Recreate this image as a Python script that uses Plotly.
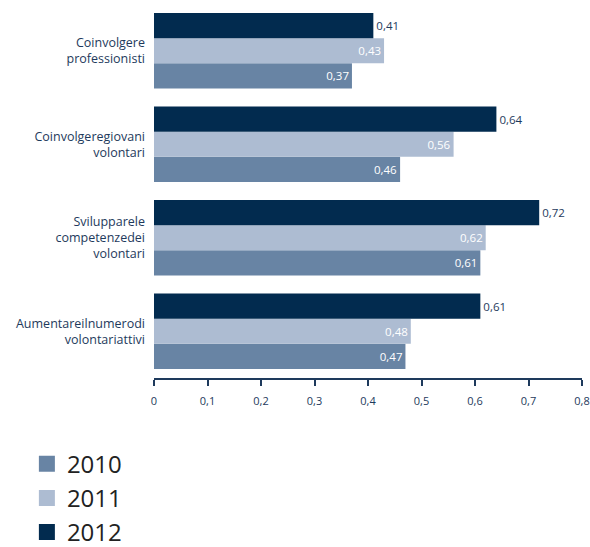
import plotly.graph_objects as go

categories = [
    "Coinvolgere<br>professionisti",
    "Coinvolgeregiovani<br>volontari",
    "Svilupparele<br>competenzedei<br>volontari",
    "Aumentareilnumerodi<br>volontariattivi",
]
years = ["2010", "2011", "2012"]
v2010 = [0.37, 0.46, 0.61, 0.47]
v2011 = [0.43, 0.56, 0.62, 0.48]
v2012 = [0.41, 0.64, 0.72, 0.61]
tick_vals = [0, 0.1, 0.2, 0.3, 0.4, 0.5, 0.6, 0.7, 0.8]

colors = {"2010": "#6884a4", "2011": "#adbcd2", "2012": "#022b4f"}
series = {"2010": v2010, "2011": v2011, "2012": v2012}
label_color = "#1e3a5c"
font_family = "Open Sans, Noto Sans, sans-serif"

fig = go.Figure()
for y in years:
    inside = y != "2012"
    fig.add_trace(go.Bar(
        y=categories, x=series[y], orientation="h", name=y,
        marker=dict(color=colors[y], line=dict(width=0)),
        texttemplate="%{x:.2f}",
        textposition="inside" if inside else "outside",
        insidetextanchor="end",
        textfont=dict(size=11.5, color="white" if inside else label_color, family=font_family),
        cliponaxis=False, showlegend=False,
    ))
    fig.add_trace(go.Scatter(
        x=[None], y=[None], mode="markers", name=y,
        marker=dict(symbol="square", size=18, color=colors[y]),
        showlegend=True,
    ))

fig.update_layout(
    width=590, height=547,
    margin=dict(l=154, r=8, t=4, b=169, autoexpand=False),
    paper_bgcolor="white", plot_bgcolor="white",
    barmode="group", bargap=0.19, bargroupgap=0,
    separators=",.",
    font=dict(family=font_family, color=label_color, size=11),
    xaxis=dict(
        range=[0, 0.8], tickvals=tick_vals, showgrid=False, automargin=False,
        zeroline=False, showline=True, linecolor="#1e3a5c", linewidth=1.5,
        ticks="outside", ticklen=6, tickcolor="#1e3a5c", tickwidth=1.5,
        ticklabelstandoff=6,
        tickfont=dict(size=11, color=label_color),
    ),
    yaxis=dict(
        categoryorder="array", categoryarray=list(reversed(categories)),
        showgrid=False, showline=False, ticks="", ticklabelstandoff=8,
        automargin=False,
        tickfont=dict(size=12.5, color=label_color),
    ),
    legend=dict(
        x=-0.297, y=-0.17, xanchor="left", yanchor="top",
        font=dict(size=24, color="#222222"), tracegroupgap=0,
        itemwidth=30, traceorder="normal",
    ),
)

fig.write_html("out.html")
